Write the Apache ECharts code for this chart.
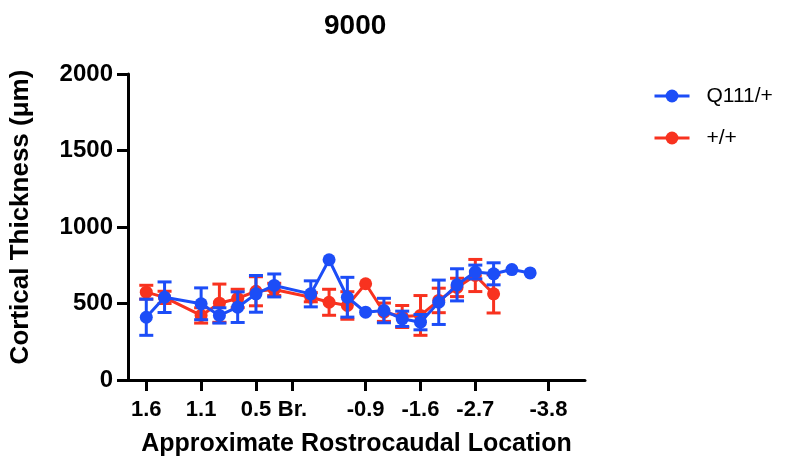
<!DOCTYPE html>
<html>
<head>
<meta charset="utf-8">
<script src="https://cdn.jsdelivr.net/npm/echarts@6/dist/echarts.min.js"></script>
<style>html,body{margin:0;padding:0;background:#fff}#c{width:797px;height:465px}</style>
</head>
<body>
<div id="c"></div>
<script>
// x positions (section index along rostrocaudal axis)
var xIdx      = [0, 1, 3, 4, 5, 6, 7, 9, 10, 11, 12, 13, 14, 15, 16, 17, 18, 19, 20, 21];
var blueMean  = [410, 541, 498, 422, 476, 563, 618, 563, 786, 541, 443, 454, 400, 378, 508, 622, 706, 694, 722, 700];
var blueErr   = [118, 100, 104, 50, 100, 120, 75, 85, 0, 130, 0, 80, 50, 50, 145, 105, 45, 72, 0, 0];
var redMean   = [574, 540, 422, 502, 533, 580, 592, 541, 508, 487, 629, 443, 415, 422, 520, 605, 683, 563, null, null];
var redErr    = [45, 40, 50, 125, 60, 95, 40, 30, 85, 90, 0, 60, 72, 130, 80, 60, 105, 125, 0, 0];
var tickPos    = [0, 3, 6, 8, 12, 15, 18, 22];
var tickLabels = ['1.6', '1.1', '0.5', 'Br.', '-0.9', '-1.6', '-2.7', '-3.8'];
var yTicks     = [0, 500, 1000, 1500, 2000];

var BLUE = '#1c4df7', RED = '#f8321f';
var FONT = 'Liberation Sans';

function pts(mean) {
  return xIdx.map(function (x, i) { return mean[i] == null ? [x, null] : [x, mean[i]]; });
}
function errs(mean, err) {
  var out = [];
  xIdx.forEach(function (x, i) {
    if (mean[i] != null && err[i] > 0) out.push([x, mean[i] - err[i], mean[i] + err[i]]);
  });
  return out;
}
function errRender(color) {
  return function (params, api) {
    var x = api.value(0), lo = api.coord([x, api.value(1)]), hi = api.coord([x, api.value(2)]);
    var w = 7;
    var st = { stroke: color, lineWidth: 3 };
    return { type: 'group', children: [
      { type: 'line', shape: { x1: lo[0], y1: lo[1], x2: hi[0], y2: hi[1] }, style: st },
      { type: 'line', shape: { x1: lo[0] - w, y1: lo[1], x2: lo[0] + w, y2: lo[1] }, style: st },
      { type: 'line', shape: { x1: hi[0] - w, y1: hi[1], x2: hi[0] + w, y2: hi[1] }, style: st }
    ]};
  };
}

var chart = echarts.init(document.getElementById('c'));
chart.setOption({
  animation: false,
  title: { text: '9000', left: 319, top: 7,
    textStyle: { fontFamily: FONT, fontSize: 28, fontWeight: 'bold', color: '#000' } },
  legend: {
    orient: 'vertical', left: 648, top: 80, itemWidth: 35, itemHeight: 16, itemGap: 20,
    lineStyle: { width: 3 },
    textStyle: { fontFamily: FONT, fontSize: 21, color: '#000', lineHeight: 22, padding: [0, 0, 0, 12] },
    data: ['Q111/+', '+/+']
  },
  grid: { left: 127, right: 212, top: 74, bottom: 85 },
  xAxis: {
    type: 'value', min: -1, max: 24,
    name: 'Approximate Rostrocaudal Location', nameLocation: 'middle', nameGap: 52,
    nameTextStyle: { fontFamily: FONT, fontSize: 25, fontWeight: 'bold', color: '#000' },
    axisLine: { show: true, onZero: false, lineStyle: { color: '#000', width: 3 } },
    axisTick: { show: true, length: 11, lineStyle: { color: '#000', width: 3 }, customValues: tickPos },
    axisLabel: { customValues: tickPos, margin: 19, fontFamily: FONT, fontSize: 22, fontWeight: 'bold', color: '#000',
      formatter: function (v) { var k = tickPos.indexOf(v); return k >= 0 ? tickLabels[k] : ''; } },
    splitLine: { show: false }
  },
  yAxis: {
    type: 'value', min: 0, max: 2000, interval: 500,
    name: 'Cortical Thickness (μm)', nameLocation: 'middle', nameGap: 94,
    nameTextStyle: { fontFamily: FONT, fontSize: 26, fontWeight: 'bold', color: '#000', padding: [0, 0, 0, 20] },
    axisLine: { show: true, onZero: false, lineStyle: { color: '#000', width: 3 } },
    axisTick: { show: true, length: 11, lineStyle: { color: '#000', width: 3 } },
    axisLabel: { customValues: yTicks, margin: 15, fontFamily: FONT, fontSize: 24, fontWeight: 'bold', color: '#000',
      formatter: function (v) { return String(v); } },
    splitLine: { show: false }
  },
  series: [
    { type: 'custom', name: '+/+ err', renderItem: errRender(RED), data: errs(redMean, redErr), z: 1, silent: true,
      encode: { x: 0, y: [1, 2] } },
    { type: 'line', name: '+/+', data: pts(redMean), connectNulls: true, symbol: 'circle', symbolSize: 13,
      itemStyle: { color: RED }, lineStyle: { color: RED, width: 3 }, z: 2 },
    { type: 'custom', name: 'Q111/+ err', renderItem: errRender(BLUE), data: errs(blueMean, blueErr), z: 3, silent: true,
      encode: { x: 0, y: [1, 2] } },
    { type: 'line', name: 'Q111/+', data: pts(blueMean), connectNulls: true, symbol: 'circle', symbolSize: 13,
      itemStyle: { color: BLUE }, lineStyle: { color: BLUE, width: 3 }, z: 4 }
  ]
});
</script>
</body>
</html>
